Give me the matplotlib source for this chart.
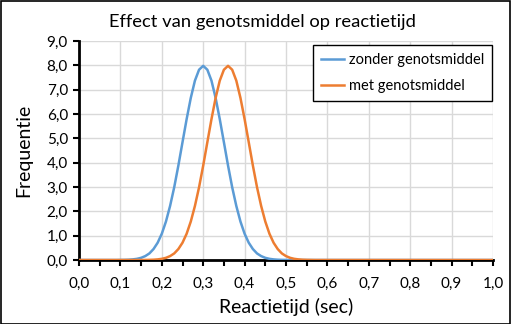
import matplotlib
matplotlib.use("Agg")
import matplotlib.pyplot as plt
from matplotlib.ticker import FuncFormatter, MultipleLocator
from matplotlib.patches import Rectangle

x_vals = [round(i * 0.01, 2) for i in range(101)]

zonder = ([0.0] * 10 +
          [0.003, 0.006, 0.012, 0.025, 0.048, 0.089, 0.16, 0.27, 0.45, 0.71,
           1.08, 1.58, 2.22, 2.99, 3.88, 4.84, 5.79, 6.66, 7.37, 7.82,
           7.98,
           7.82, 7.37, 6.66, 5.79, 4.84, 3.88, 2.99, 2.22, 1.58, 1.08,
           0.71, 0.45, 0.27, 0.16, 0.089, 0.048, 0.025, 0.012, 0.006, 0.003] +
          [0.0] * 50)

met = ([0.0] * 16 +
       [0.003, 0.006, 0.012, 0.025, 0.048, 0.089, 0.16, 0.27, 0.45, 0.71,
        1.08, 1.58, 2.22, 2.99, 3.88, 4.84, 5.79, 6.66, 7.37, 7.82,
        7.98,
        7.82, 7.37, 6.66, 5.79, 4.84, 3.88, 2.99, 2.22, 1.58, 1.08,
        0.71, 0.45, 0.27, 0.16, 0.089, 0.048, 0.025, 0.012, 0.006, 0.003] +
       [0.0] * 44)

series_names = ["zonder genotsmiddel", "met genotsmiddel"]
title = "Effect van genotsmiddel op reactietijd"
xlabel = "Reactietijd (sec)"
ylabel = "Frequentie"

plt.rcParams['font.family'] = ['Lato', 'DejaVu Sans']

fig = plt.figure(figsize=(5.11, 3.24), dpi=100)
ax = fig.add_axes([79 / 511, 1 - 260 / 324, (493 - 79) / 511, (260 - 41) / 324])

ax.plot(x_vals, zonder, color="#5B9BD5", lw=1.8, label=series_names[0], zorder=3)
ax.plot(x_vals, met, color="#ED7D31", lw=1.8, label=series_names[1], zorder=3)

ax.set_xlim(0, 1)
ax.set_ylim(0, 9)
ax.xaxis.set_major_locator(MultipleLocator(0.1))
ax.xaxis.set_minor_locator(MultipleLocator(0.05))
ax.yaxis.set_major_locator(MultipleLocator(1))
fmt = FuncFormatter(lambda v, p: f"{v:.1f}".replace(".", ","))
ax.xaxis.set_major_formatter(fmt)
ax.yaxis.set_major_formatter(fmt)

ax.grid(True, which="major", color="#D9D9D9", lw=1)
ax.set_axisbelow(True)
for s in ["top", "right"]:
    ax.spines[s].set_visible(False)
for s in ["left", "bottom"]:
    ax.spines[s].set_color("black")
    ax.spines[s].set_linewidth(2)
    ax.spines[s].set_zorder(2.5)

ax.tick_params(axis="x", which="both", direction="out", length=4, width=1.5,
               color="black", labelsize=11, pad=8)
ax.tick_params(axis="y", which="major", direction="out", length=4, width=1.5,
               color="black", labelsize=11, pad=4)

ax.set_xlabel(xlabel, fontsize=14, labelpad=5)
ax.set_ylabel(ylabel, fontsize=14, labelpad=10)
fig.text(262 / 511, 1 - 22 / 324, title, ha="center", va="center", fontsize=13.2)

leg = ax.legend(loc="upper right", bbox_to_anchor=(492 / 511, 1 - 45 / 324),
                bbox_transform=fig.transFigure, fontsize=10.5, frameon=True,
                fancybox=False, edgecolor="black", handlelength=1.6,
                handletextpad=0.3, borderpad=0.55, labelspacing=0.8,
                borderaxespad=0)
leg.get_frame().set_linewidth(1)
leg.get_frame().set_alpha(1)

fig.patches.append(Rectangle((0.001, 0.0015), 0.997, 0.996, transform=fig.transFigure,
                             fill=False, edgecolor="black", lw=1.2))

fig.savefig("out.png", dpi=100)
